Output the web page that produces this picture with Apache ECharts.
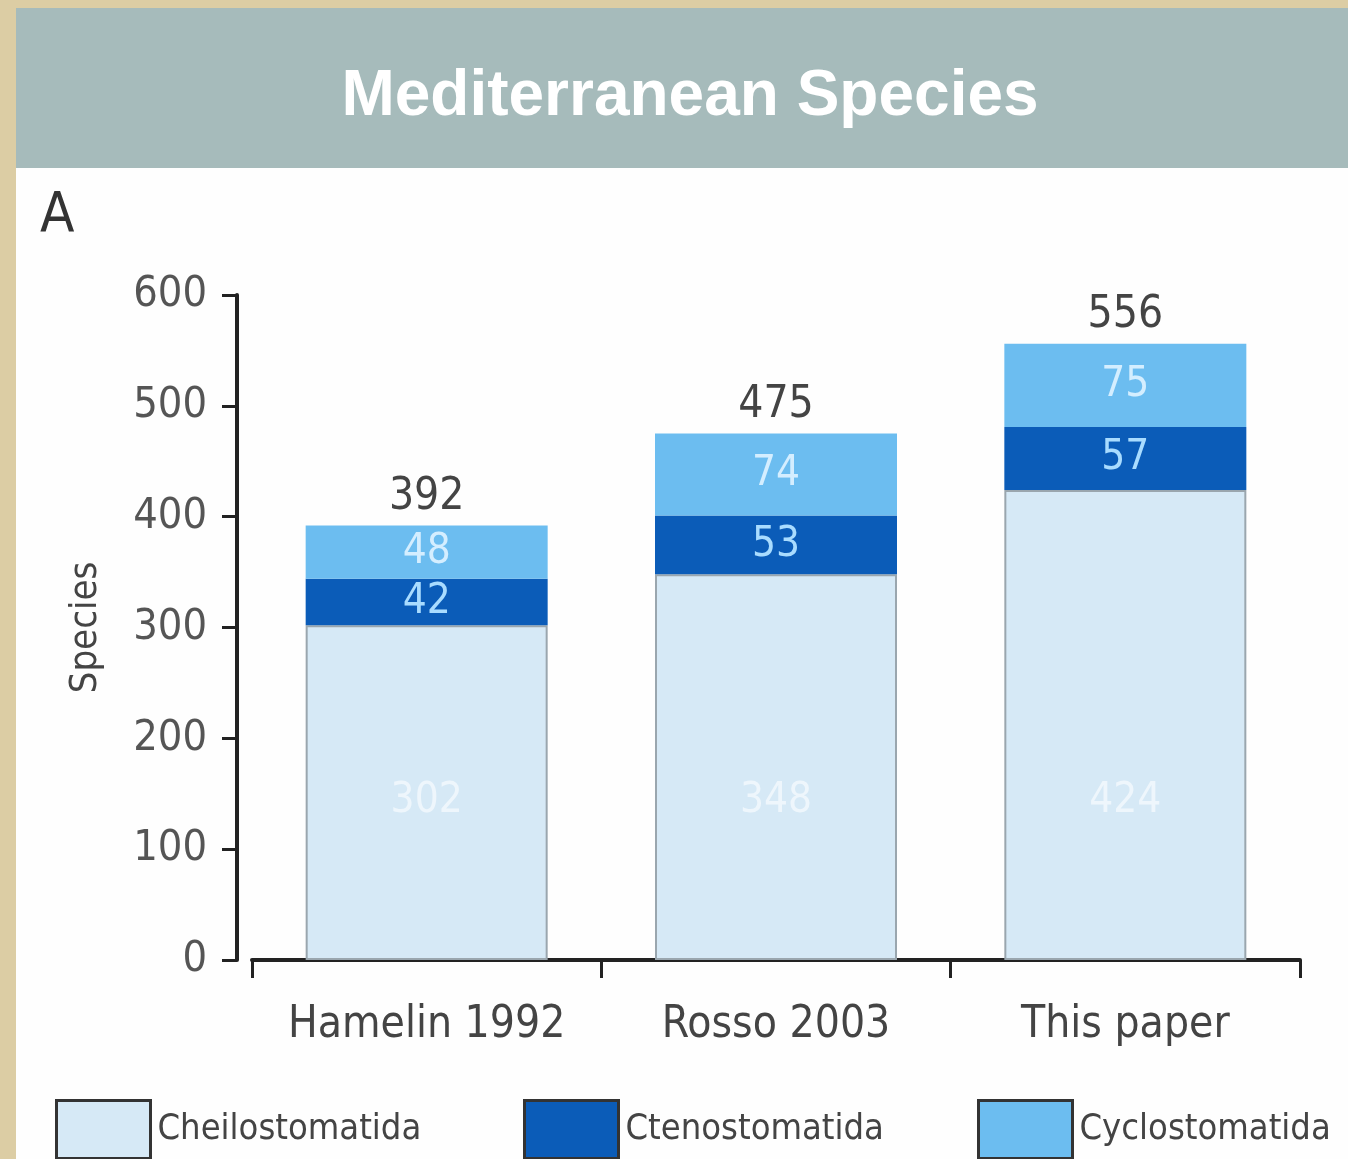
<!DOCTYPE html>
<html><head><meta charset="utf-8">
<script src="https://cdn.jsdelivr.net/npm/echarts@6/dist/echarts.min.js"></script>
<style>html,body{margin:0;padding:0;background:#dccda4;}#c{width:1348px;height:1159px;}</style>
</head><body><div id="c"></div>
<script>
const categories = ['Hamelin 1992', 'Rosso 2003', 'This paper'];
const cheilostomatida = [302, 348, 424];
const ctenostomatida = [42, 53, 57];
const cyclostomatida = [48, 74, 75];
const totals = [392, 475, 556];
const yTicks = [0, 100, 200, 300, 400, 500, 600];

const FONT = '"Liberation Sans Narrow", "DejaVu Sans Condensed", "Liberation Sans", sans-serif';
const legendCommon = {
  itemWidth: 94, itemHeight: 58, itemGap: 10, icon: 'rect', selectedMode: false,
  itemStyle: { borderColor: '#333', borderWidth: 3 },
  textStyle: { fontSize: 36, color: '#444', fontFamily: FONT, padding: [0, 0, 0, 2] }
};
const chart = echarts.init(document.getElementById('c'));
chart.setOption({
  backgroundColor: '#dccda4',
  animation: false,
  graphic: [
    { type: 'rect', left: 16, top: 8, shape: { width: 1332, height: 1151 }, style: { fill: '#fefefe' }, z: -10 },
    { type: 'rect', left: 16, top: 8, shape: { width: 1332, height: 160 }, style: { fill: '#a6bbbb' }, z: -9 },
    { type: 'text', left: 40, top: 188, style: { text: 'A', fill: '#333', font: '56px ' + FONT } }
  ],
  title: {
    text: 'Mediterranean Species', left: 685, top: 60, textAlign: 'center',
    textStyle: { color: '#ffffff', fontSize: 64, fontWeight: 'bold', fontFamily: 'Liberation Sans, Arial, sans-serif' }
  },
  legend: [
    Object.assign({ data: ['Cheilostomatida'], left: 50, top: 1094 }, legendCommon),
    Object.assign({ data: ['Ctenostomatida'], left: 518, top: 1094 }, legendCommon),
    Object.assign({ data: ['Cyclostomatida'], left: 972, top: 1094 }, legendCommon)
  ],
  grid: { left: 252, right: 48, top: 295, bottom: 199 },
  xAxis: {
    type: 'category', data: categories,
    axisLine: { lineStyle: { color: '#222', width: 4 } },
    axisTick: { show: true, interval: 0, length: 18, lineStyle: { color: '#222', width: 3 } },
    axisLabel: { interval: 0, hideOverlap: false, fontSize: 44, color: '#444', margin: 44, fontFamily: FONT }
  },
  yAxis: {
    type: 'value', min: 0, max: 600, interval: 100, offset: 15,
    name: 'Species', nameLocation: 'middle', nameGap: 132, nameRotate: 90,
    nameTextStyle: { fontSize: 38, color: '#444', fontFamily: FONT },
    axisLine: { show: true, lineStyle: { color: '#222', width: 4 } },
    axisTick: { show: true, length: 15, lineStyle: { color: '#222', width: 3 } },
    splitLine: { show: false },
    axisLabel: { fontSize: 43, color: '#555', margin: 30, fontFamily: FONT,
      formatter: v => yTicks.includes(v) ? String(v) : '' }
  },
  series: [
    { name: 'Cheilostomatida', type: 'bar', stack: 's', barWidth: 242, data: cheilostomatida,
      itemStyle: { color: '#d6e9f6', borderColor: '#9aa6ae', borderWidth: 2 },
      label: { show: true, position: 'insideBottom', distance: 138, color: '#eef6fc', fontSize: 42, fontFamily: FONT } },
    { name: 'Ctenostomatida', type: 'bar', stack: 's', data: ctenostomatida,
      itemStyle: { color: '#0b5cb8', borderWidth: 0 },
      label: { show: true, position: 'inside', color: '#a9dcff', fontSize: 42, fontFamily: FONT } },
    { name: 'Cyclostomatida', type: 'bar', stack: 's', data: cyclostomatida,
      itemStyle: { color: '#6cbdf0', borderWidth: 0 },
      label: { show: true, position: 'inside', color: '#d4eeff', fontSize: 42, fontFamily: FONT } },
    { name: 'total', type: 'bar', stack: 's', data: totals.map(() => 0), legendHoverLink: false,
      itemStyle: { color: 'transparent' },
      label: { show: true, position: 'top', distance: 6, color: '#444', fontSize: 44, fontFamily: FONT,
        formatter: p => String(totals[p.dataIndex]) } }
  ]
});
</script></body></html>
